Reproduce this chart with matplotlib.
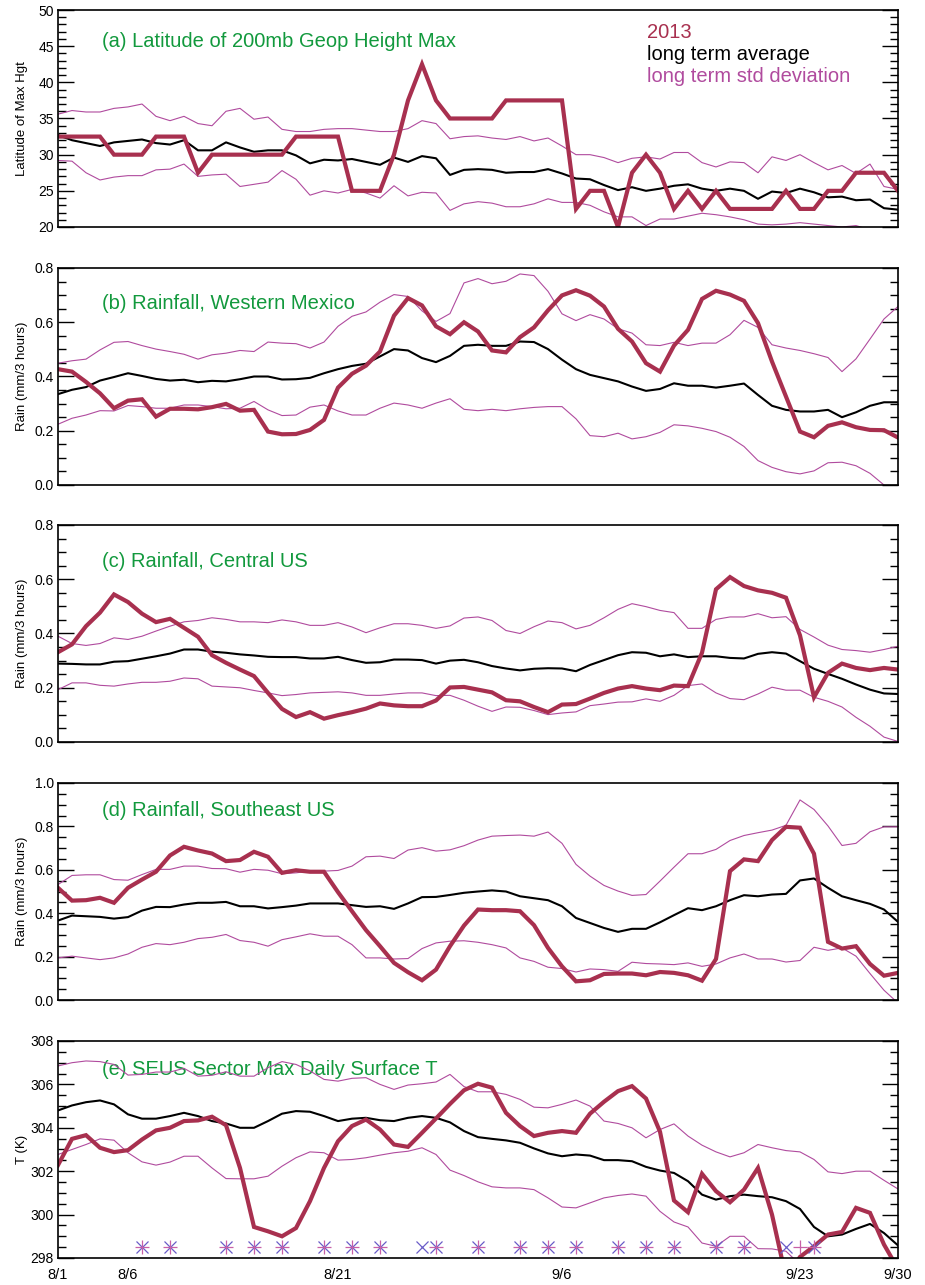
import numpy as np
import matplotlib
matplotlib.use("Agg")
import matplotlib.pyplot as plt
from matplotlib.ticker import MultipleLocator

plt.rcParams['font.family'] = ['Liberation Sans', 'DejaVu Sans']

days = np.arange(61)  # 8/1 .. 9/30
tick_days = [0, 5, 20, 36, 53, 60]
tick_labels = ["8/1", "8/6", "8/21", "9/6", "9/23", "9/30"]

# (a) latitude of 200mb height max
red_a = [32.5, 32.5, 32.5, 32.5, 30, 30, 30, 32.5, 32.5, 32.5,
         27.5, 30, 30, 30, 30, 30, 30, 32.5, 32.5, 32.5,
         32.5, 25, 25, 25, 30, 37.5, 42.5, 37.5, 35, 35,
         35, 35, 37.5, 37.5, 37.5, 37.5, 37.5, 22.5, 25, 25,
         20, 27.5, 30, 27.5, 22.5, 25, 22.5, 25, 22.5, 22.5,
         22.5, 22.5, 25, 22.5, 22.5, 25, 25, 27.5, 27.5, 27.5, 25]
avg_a = [32.7, 32.0, 31.6, 31.2, 31.7, 31.9, 32.1, 31.6, 31.4, 32.0,
         30.6, 30.6, 31.7, 31.0, 30.4, 30.6, 30.6, 29.9, 28.8, 29.3,
         29.2, 29.4, 29.0, 28.6, 29.6, 29.0, 29.8, 29.5, 27.2, 27.9,
         28.0, 27.9, 27.5, 27.6, 27.6, 28.0, 27.4, 26.7, 26.6, 25.8,
         25.1, 25.5, 25.0, 25.3, 25.7, 25.9, 25.3, 25.0, 25.3, 25.0,
         23.9, 24.9, 24.7, 25.3, 24.8, 24.1, 24.2, 23.7, 23.8, 22.6, 22.4]
hi_a = [35.6, 36.1, 35.9, 35.9, 36.4, 36.6, 37.0, 35.3, 34.7, 35.3,
        34.3, 34.0, 36.0, 36.4, 34.9, 35.2, 33.5, 33.2, 33.2, 33.5,
        33.6, 33.6, 33.4, 33.2, 33.2, 33.6, 34.7, 34.3, 32.2, 32.5,
        32.6, 32.3, 32.1, 32.5, 31.9, 32.3, 31.2, 30.0, 30.0, 29.6,
        28.9, 29.5, 29.7, 29.4, 30.3, 30.3, 28.9, 28.3, 29.0, 28.9,
        27.5, 29.7, 29.2, 30.0, 28.9, 27.9, 28.5, 27.4, 28.7, 25.6, 25.2]
lo_a = [29.2, 29.1, 27.5, 26.5, 26.9, 27.1, 27.1, 27.9, 28.0, 28.7,
        27.0, 27.2, 27.3, 25.6, 25.9, 26.2, 27.8, 26.6, 24.4, 25.0,
        24.7, 25.2, 24.7, 24.0, 25.7, 24.3, 24.8, 24.7, 22.3, 23.2,
        23.5, 23.3, 22.8, 22.8, 23.2, 23.9, 23.4, 23.4, 23.0, 22.1,
        21.4, 21.4, 20.2, 21.1, 21.1, 21.5, 21.9, 21.7, 21.4, 21.0,
        20.4, 20.3, 20.4, 20.6, 20.4, 20.2, 20.0, 20.2, 19.6, 19.4, 19.2]

# (b) rainfall western mexico
red_b = [0.427, 0.418, 0.38, 0.338, 0.283, 0.311, 0.316, 0.252, 0.281, 0.281,
         0.279, 0.287, 0.299, 0.274, 0.277, 0.197, 0.187, 0.188, 0.203, 0.24,
         0.359, 0.41, 0.44, 0.492, 0.624, 0.689, 0.662, 0.585, 0.556, 0.6,
         0.566, 0.496, 0.489, 0.545, 0.581, 0.644, 0.699, 0.718, 0.698, 0.658,
         0.576, 0.529, 0.449, 0.418, 0.514, 0.572, 0.686, 0.716, 0.702, 0.679,
         0.597, 0.455, 0.326, 0.197, 0.176, 0.218, 0.231, 0.213, 0.203, 0.202, 0.175]
avg_b = [0.335, 0.351, 0.361, 0.385, 0.398, 0.412, 0.402, 0.391, 0.385, 0.388,
         0.379, 0.384, 0.382, 0.39, 0.4, 0.4, 0.389, 0.39, 0.395, 0.412,
         0.427, 0.439, 0.447, 0.474, 0.501, 0.496, 0.468, 0.453, 0.476, 0.513,
         0.517, 0.513, 0.513, 0.529, 0.527, 0.501, 0.462, 0.427, 0.406, 0.394,
         0.382, 0.363, 0.347, 0.354, 0.375, 0.366, 0.366, 0.359, 0.366, 0.374,
         0.332, 0.292, 0.277, 0.271, 0.271, 0.277, 0.25, 0.268, 0.292, 0.305, 0.305]
hi_b = [0.449, 0.458, 0.464, 0.498, 0.526, 0.529, 0.514, 0.501, 0.492, 0.482,
        0.464, 0.48, 0.486, 0.496, 0.492, 0.527, 0.523, 0.521, 0.505, 0.527,
        0.585, 0.622, 0.638, 0.674, 0.702, 0.695, 0.642, 0.603, 0.632, 0.745,
        0.761, 0.742, 0.751, 0.778, 0.772, 0.714, 0.631, 0.606, 0.628, 0.612,
        0.576, 0.56, 0.517, 0.514, 0.526, 0.514, 0.523, 0.523, 0.554, 0.607,
        0.581, 0.517, 0.505, 0.496, 0.484, 0.47, 0.418, 0.465, 0.538, 0.612, 0.658]
lo_b = [0.224, 0.246, 0.258, 0.274, 0.273, 0.293, 0.289, 0.283, 0.283, 0.295,
        0.295, 0.289, 0.281, 0.283, 0.308, 0.277, 0.256, 0.258, 0.287, 0.295,
        0.273, 0.258, 0.258, 0.283, 0.302, 0.295, 0.283, 0.302, 0.318, 0.279,
        0.274, 0.279, 0.274, 0.281, 0.286, 0.289, 0.289, 0.244, 0.182, 0.178,
        0.191, 0.17, 0.178, 0.194, 0.222, 0.218, 0.209, 0.197, 0.176, 0.142,
        0.09, 0.065, 0.049, 0.041, 0.052, 0.082, 0.084, 0.071, 0.043, 0.0, -0.03]

# (c) rainfall central US
red_c = [0.331, 0.36, 0.427, 0.477, 0.544, 0.516, 0.473, 0.442, 0.454, 0.421,
         0.388, 0.32, 0.292, 0.267, 0.243, 0.181, 0.122, 0.092, 0.11, 0.086,
         0.099, 0.11, 0.123, 0.142, 0.135, 0.132, 0.132, 0.153, 0.201, 0.203,
         0.193, 0.183, 0.154, 0.15, 0.129, 0.11, 0.138, 0.14, 0.16, 0.181,
         0.197, 0.206, 0.197, 0.191, 0.208, 0.206, 0.329, 0.563, 0.608, 0.575,
         0.559, 0.55, 0.532, 0.393, 0.165, 0.255, 0.289, 0.273, 0.265, 0.273, 0.267]
avg_c = [0.289, 0.288, 0.286, 0.286, 0.296, 0.298, 0.307, 0.316, 0.326, 0.341,
         0.341, 0.333, 0.329, 0.323, 0.319, 0.314, 0.313, 0.313, 0.308, 0.308,
         0.314, 0.302, 0.292, 0.294, 0.304, 0.304, 0.302, 0.289, 0.3, 0.303,
         0.294, 0.28, 0.271, 0.264, 0.27, 0.272, 0.271, 0.261, 0.284, 0.302,
         0.32, 0.331, 0.329, 0.316, 0.323, 0.313, 0.316, 0.316, 0.31, 0.308,
         0.325, 0.331, 0.326, 0.298, 0.27, 0.251, 0.233, 0.212, 0.193, 0.179, 0.177]
hi_c = [0.39, 0.363, 0.356, 0.363, 0.384, 0.378, 0.39, 0.409, 0.427, 0.443,
        0.448, 0.458, 0.452, 0.443, 0.443, 0.44, 0.45, 0.443, 0.43, 0.43,
        0.44, 0.424, 0.403, 0.421, 0.436, 0.436, 0.43, 0.419, 0.428, 0.457,
        0.461, 0.448, 0.411, 0.4, 0.425, 0.446, 0.44, 0.417, 0.43, 0.458,
        0.489, 0.51, 0.499, 0.485, 0.477, 0.419, 0.419, 0.452, 0.461, 0.461,
        0.473, 0.458, 0.462, 0.415, 0.387, 0.357, 0.341, 0.337, 0.331, 0.341, 0.353]
lo_c = [0.193, 0.218, 0.218, 0.209, 0.206, 0.214, 0.22, 0.22, 0.224, 0.236,
        0.233, 0.206, 0.203, 0.2, 0.19, 0.181, 0.171, 0.175, 0.181, 0.183,
        0.185, 0.181, 0.172, 0.172, 0.177, 0.181, 0.181, 0.171, 0.172, 0.154,
        0.132, 0.113, 0.129, 0.128, 0.116, 0.101, 0.107, 0.111, 0.134, 0.14,
        0.147, 0.148, 0.159, 0.15, 0.172, 0.208, 0.214, 0.181, 0.16, 0.156,
        0.177, 0.202, 0.191, 0.191, 0.165, 0.15, 0.129, 0.091, 0.058, 0.018, 0.002]

# (d) rainfall southeast US
red_d = [0.517, 0.458, 0.46, 0.471, 0.448, 0.517, 0.555, 0.591, 0.666, 0.706,
         0.689, 0.675, 0.64, 0.645, 0.683, 0.66, 0.586, 0.598, 0.591, 0.591,
         0.497, 0.409, 0.322, 0.248, 0.171, 0.128, 0.091, 0.14, 0.248, 0.343,
         0.417, 0.414, 0.414, 0.409, 0.345, 0.24, 0.155, 0.086, 0.091, 0.12,
         0.122, 0.122, 0.114, 0.129, 0.125, 0.114, 0.089, 0.189, 0.594, 0.648,
         0.64, 0.737, 0.798, 0.794, 0.674, 0.268, 0.237, 0.248, 0.166, 0.112, 0.125]
avg_d = [0.366, 0.389, 0.386, 0.383, 0.375, 0.382, 0.412, 0.429, 0.428, 0.44,
         0.448, 0.448, 0.452, 0.432, 0.432, 0.422, 0.428, 0.435, 0.445, 0.445,
         0.445, 0.437, 0.429, 0.432, 0.42, 0.445, 0.474, 0.475, 0.484, 0.494,
         0.5, 0.505, 0.5, 0.478, 0.469, 0.46, 0.432, 0.378, 0.355, 0.332,
         0.314, 0.328, 0.328, 0.358, 0.391, 0.423, 0.414, 0.432, 0.46, 0.483,
         0.478, 0.486, 0.489, 0.551, 0.56, 0.517, 0.478, 0.46, 0.443, 0.417, 0.36]
hi_d = [0.532, 0.574, 0.577, 0.577, 0.555, 0.552, 0.578, 0.602, 0.602, 0.617,
        0.617, 0.606, 0.605, 0.589, 0.602, 0.598, 0.582, 0.586, 0.594, 0.594,
        0.597, 0.617, 0.66, 0.663, 0.652, 0.691, 0.702, 0.686, 0.692, 0.711,
        0.737, 0.755, 0.758, 0.76, 0.755, 0.774, 0.722, 0.625, 0.571, 0.528,
        0.502, 0.482, 0.486, 0.548, 0.612, 0.674, 0.674, 0.694, 0.735, 0.758,
        0.771, 0.783, 0.805, 0.922, 0.878, 0.802, 0.712, 0.722, 0.775, 0.798, 0.798]
lo_d = [0.194, 0.202, 0.194, 0.186, 0.194, 0.212, 0.243, 0.26, 0.255, 0.266,
        0.283, 0.289, 0.302, 0.274, 0.266, 0.248, 0.278, 0.291, 0.305, 0.294,
        0.294, 0.255, 0.194, 0.194, 0.189, 0.191, 0.237, 0.263, 0.271, 0.273,
        0.266, 0.255, 0.24, 0.194, 0.178, 0.151, 0.145, 0.129, 0.143, 0.14,
        0.132, 0.174, 0.168, 0.166, 0.163, 0.171, 0.155, 0.166, 0.194, 0.212,
        0.189, 0.189, 0.175, 0.182, 0.243, 0.229, 0.24, 0.202, 0.122, 0.045, -0.014]

# (e) SEUS max daily surface T
red_e = [302.28, 303.49, 303.66, 303.08, 302.88, 302.97, 303.46, 303.88, 304.0, 304.31,
         304.34, 304.51, 304.12, 302.15, 299.43, 299.23, 299.0, 299.38, 300.62, 302.15,
         303.38, 304.08, 304.38, 303.92, 303.23, 303.12, 303.77, 304.43, 305.1, 305.73,
         306.03, 305.85, 304.69, 304.08, 303.62, 303.77, 303.85, 303.77, 304.65, 305.2,
         305.69, 305.92, 305.35, 303.82, 300.65, 300.11, 301.88, 301.08, 300.57, 301.15,
         302.15, 300.0, 297.1, 298.05, 298.54, 299.08, 299.2, 300.31, 300.08, 298.62, 297.5]
avg_e = [304.8, 305.03, 305.18, 305.26, 305.08, 304.62, 304.42, 304.42, 304.54, 304.69,
         304.54, 304.31, 304.2, 304.0, 304.0, 304.31, 304.65, 304.77, 304.74, 304.54,
         304.31, 304.42, 304.46, 304.35, 304.31, 304.46, 304.54, 304.46, 304.25, 303.85,
         303.57, 303.49, 303.42, 303.31, 303.05, 302.82, 302.69, 302.77, 302.72, 302.51,
         302.51, 302.46, 302.2, 302.03, 301.92, 301.54, 300.92, 300.69, 300.85, 300.92,
         300.85, 300.8, 300.62, 300.26, 299.43, 299.0, 299.08, 299.34, 299.57, 299.15, 298.58]
hi_e = [306.85, 307.0, 307.08, 307.05, 306.92, 306.43, 306.46, 306.57, 306.57, 306.74,
        306.38, 306.42, 306.58, 306.38, 306.38, 306.77, 307.05, 306.92, 306.62, 306.23,
        306.15, 306.28, 306.31, 306.0, 305.77, 305.97, 306.03, 306.11, 306.46, 305.9,
        305.66, 305.66, 305.54, 305.31, 304.95, 304.92, 305.08, 305.28, 305.0, 304.31,
        304.2, 304.0, 303.54, 303.92, 304.18, 303.62, 303.2, 302.89, 302.66, 302.85,
        303.23, 303.08, 302.95, 302.89, 302.54, 301.97, 301.89, 302.0, 302.0, 301.58, 301.18]
lo_e = [302.77, 303.0, 303.23, 303.49, 303.43, 302.85, 302.43, 302.28, 302.42, 302.69,
        302.69, 302.15, 301.66, 301.65, 301.65, 301.77, 302.23, 302.62, 302.89, 302.85,
        302.51, 302.54, 302.62, 302.74, 302.85, 302.92, 303.08, 302.77, 302.05, 301.8,
        301.51, 301.28, 301.23, 301.23, 301.15, 300.77, 300.35, 300.31, 300.54, 300.77,
        300.88, 300.95, 300.85, 300.15, 299.66, 299.43, 298.69, 298.54, 299.0, 299.0,
        298.43, 298.42, 298.31, 297.7, 297.6, 297.5, 297.5, 297.4, 297.3, 297.2, 297.1]

# event markers along the bottom of panel (e)
plus_days = [6, 8, 12, 14, 16, 19, 21, 23, 27, 30, 33, 35, 37, 40, 42, 44, 47, 49, 53, 54]
cross_days = [6, 8, 12, 14, 16, 19, 21, 23, 26, 27, 30, 33, 35, 37, 40, 42, 44, 47, 49, 52, 54]
marker_level = 298.5

RED = '#a8304f'
MAG = '#b04b9e'
GREEN = '#12993d'

panels = [
    ("(a) Latitude of 200mb Geop Height Max", "Latitude of Max Hgt",
     red_a, avg_a, hi_a, lo_a, (20, 50), 5, 1, "%d", 0.829),
    ("(b) Rainfall, Western Mexico", "Rain (mm/3 hours)",
     red_b, avg_b, hi_b, lo_b, (0, 0.8), 0.2, 0.05, "%.1f", 0.811),
    ("(c) Rainfall, Central US", "Rain (mm/3 hours)",
     red_c, avg_c, hi_c, lo_c, (0, 0.8), 0.2, 0.05, "%.1f", 0.806),
    ("(d) Rainfall, Southeast US", "Rain (mm/3 hours)",
     red_d, avg_d, hi_d, lo_d, (0, 1.0), 0.2, 0.05, "%.1f", 0.848),
    ("(e) SEUS Sector Max Daily Surface T", "T (K)",
     red_e, avg_e, hi_e, lo_e, (298, 308), 2, 0.5, "%d", 0.843),
]
bottoms_px = [227, 485, 742, 1000, 1258]

W, H = 925, 1285
fig = plt.figure(figsize=(W / 100, H / 100), dpi=100)

for k, (title, ylab, red, avg, hi, lo, ylim, major, minor, fmt, ty) in enumerate(panels):
    ax = fig.add_axes([58 / W, 1 - bottoms_px[k] / H, 840 / W, 217 / H])
    ax.plot(days, hi, color=MAG, lw=0.8)
    ax.plot(days, lo, color=MAG, lw=0.8)
    ax.plot(days, avg, color='black', lw=1.5)
    ax.plot(days, red, color=RED, lw=3.0, solid_joinstyle='miter')
    ax.set_xlim(0, 60)
    ax.set_ylim(*ylim)
    ax.yaxis.set_major_locator(MultipleLocator(major))
    ax.yaxis.set_minor_locator(MultipleLocator(minor))
    ax.yaxis.set_major_formatter(matplotlib.ticker.FormatStrFormatter(fmt))
    ax.tick_params(axis='y', which='both', direction='in', left=True, right=True,
                   labelsize=10, pad=3, width=1.0)
    ax.tick_params(axis='y', which='major', length=11.5)
    ax.tick_params(axis='y', which='minor', length=5.8)
    ax.set_xticks(tick_days)
    ax.tick_params(axis='x', length=0, labelsize=10.5, pad=7)
    if k < 4:
        ax.set_xticklabels([])
    else:
        ax.set_xticklabels(tick_labels)
    for s in ax.spines.values():
        s.set_linewidth(1.2)
    ax.text(0.0524, ty, title, transform=ax.transAxes, color=GREEN,
            fontsize=14.5, va='baseline', ha='left', zorder=1)
    yc = 1 - (bottoms_px[k] - 108.5) / H
    fig.text(22 / W, yc, ylab, rotation=90, ha='center', va='center', fontsize=9.5)
    if k == 0:
        ax.text(0.701, 0.870, "2013", transform=ax.transAxes, color=RED,
                fontsize=14.5, va='baseline')
        ax.text(0.701, 0.770, "long term average", transform=ax.transAxes,
                color='black', fontsize=14.5, va='baseline')
        ax.text(0.701, 0.670, "long term std deviation", transform=ax.transAxes,
                color=MAG, fontsize=14.5, va='baseline')
    if k == 4:
        ax.plot(cross_days, [marker_level] * len(cross_days), ls='none',
                marker='x', ms=8.5, mew=0.9, color='#6a5cc8')
        ax.plot(plus_days, [marker_level] * len(plus_days), ls='none',
                marker='+', ms=10, mew=0.9, color='#c860a8')

fig.savefig("out.png", dpi=100)
